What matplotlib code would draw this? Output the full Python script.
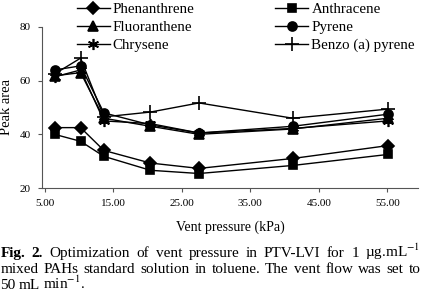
import matplotlib
matplotlib.use("Agg")
import matplotlib.pyplot as plt

plt.rcParams['font.family'] = ['Liberation Serif', 'DejaVu Serif']
plt.rcParams['mathtext.fontset'] = 'stix'

# vent pressure (kPa)
pressure = [6.4, 10.2, 13.6, 20.4, 27.5, 41.2, 55.1]

phenanthrene = [42.5, 42.5, 34.0, 29.3, 27.3, 31.0, 35.8]
anthracene = [40.0, 37.4, 31.8, 26.6, 25.4, 28.4, 32.5]
fluoranthene = [61.8, 63.0, 46.0, 43.0, 40.0, 42.0, 46.0]
pyrene = [64.0, 65.5, 48.0, 43.5, 40.5, 43.0, 47.5]
chrysene = [61.4, 64.0, 45.0, 44.0, 40.5, 42.2, 45.0]
benzo_a_pyrene = [62.5, 68.4, 46.5, 48.3, 51.7, 46.0, 49.4]

series = [
    ("Phenanthrene", phenanthrene, "D", 6),
    ("Anthracene", anthracene, "s", 6),
    ("Fluoranthene", fluoranthene, "^", 7),
    ("Pyrene", pyrene, "o", 6.5),
    ("Chrysene", chrysene, (6, 2, 0), 8),
    ("Benzo (a) pyrene", benzo_a_pyrene, "+", 10),
]

xticks = [5, 15, 25, 35, 45, 55]
yticks = [20, 40, 60, 80]

fig = plt.figure(figsize=(4.21, 2.96), dpi=100)
W, H = 421, 296
ax = fig.add_axes([42 / W, 1 - 188 / H, (418 - 42) / W, (188 - 27) / H])

handles = {}
for name, vals, mk, ms in series:
    h, = ax.plot(pressure, vals, color='black', lw=1.0, marker=mk, markersize=ms,
                 markerfacecolor='black', markeredgecolor='black', markeredgewidth=1.2,
                 label=name)
    handles[name] = h

ax.set_xlim(4.56, 59.5)
ax.set_ylim(20, 80)
ax.set_xticks(xticks)
ax.set_xticklabels([f"{v:.2f}" for v in xticks])
ax.set_yticks(yticks)
ax.tick_params(labelsize=8, length=3, width=0.8, color='#555555', pad=5)
for s in ['top', 'right']:
    ax.spines[s].set_visible(False)
for s in ['left', 'bottom']:
    ax.spines[s].set_color('#555555')
    ax.spines[s].set_linewidth(0.8)
ax.patch.set_alpha(0)

ax.set_xlabel("Vent pressure (kPa)", fontsize=10, labelpad=9)
ax.set_ylabel("Peak area", fontsize=10.5, labelpad=5)

order = ["Phenanthrene", "Fluoranthene", "Chrysene", "Anthracene", "Pyrene", "Benzo (a) pyrene"]
fig.legend([handles[n] for n in order], order, loc='upper left',
           bbox_to_anchor=(69 / W, 1 + 5 / H), ncol=2, frameon=False, fontsize=10.8,
           handlelength=2.2, handletextpad=0.2, columnspacing=5.4, labelspacing=0.3,
           borderpad=0.0)

# caption, justified like the printed figure
fig.canvas.draw()
renderer = fig.canvas.get_renderer()


def put_line(words, y, justify=True):
    texts = []
    for w, bold in words:
        t = fig.text(0, y, w, fontsize=11, fontweight='bold' if bold else 'normal',
                     transform=None, va='baseline')
        texts.append(t)
    widths = [t.get_window_extent(renderer).width for t in texts]
    space = 3.0
    if justify and len(texts) > 1:
        space = (W - 1 - sum(widths)) / (len(texts) - 1)
    x = 0.5
    for t, wd in zip(texts, widths):
        t.set_x(x)
        x += wd + space


line1 = [("Fig.", True), ("2.", True)] + [(w, False) for w in
         "Optimization of vent pressure in PTV-LVI for 1".split()] + [(r"µg.mL$^{-1}$", False)]
line2 = [(w, False) for w in "mixed PAHs standard solution in toluene. The vent flow was set to".split()]
line3 = [("50", False), ("mL", False), (r"min$^{-1}$.", False)]

put_line(line1, H - 257)
put_line(line2, H - 273)
put_line(line3, H - 289, justify=False)

fig.savefig("out.png", dpi=100)
